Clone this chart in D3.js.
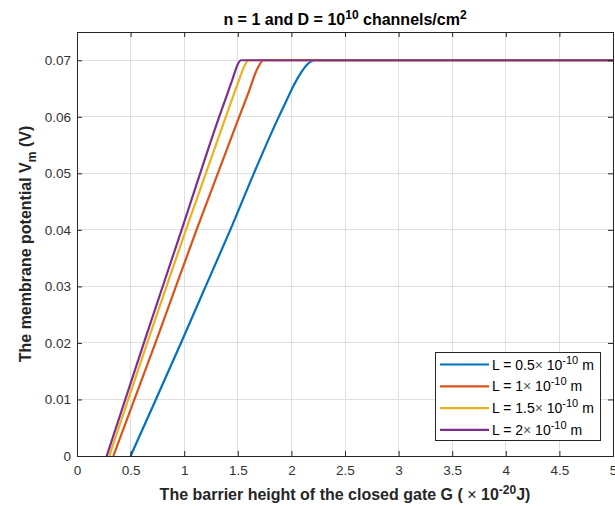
<!DOCTYPE html>
<html><head><meta charset="utf-8">
<script src="https://cdn.jsdelivr.net/npm/d3@7/dist/d3.min.js"></script>
<style>
body{margin:0;background:#fff;}
text{font-family:"Liberation Sans",Arial,Helvetica,sans-serif;}
</style></head>
<body><svg id="c" width="615" height="506"></svg>
<script>
// Data
const xTicks = [0,0.5,1,1.5,2,2.5,3,3.5,4,4.5,5];
const yTicks = [0,0.01,0.02,0.03,0.04,0.05,0.06,0.07];
const seriesNames = ["0.5","1","1.5","2"];
const seriesColors = ["#0072BD","#D95319","#EDB120","#7E2F8E"];
const G_L05 = [0.5,0.736,0.97,1.2,1.43,1.65,1.87,1.95,2.02,2.09,2.15,2.22,5];
const V_L05 = [0,0.01,0.02,0.03,0.04,0.05,0.0595,0.0627,0.0655,0.0678,0.0693,0.07,0.07];
const G_L1 = [0.339,0.743,1.115,1.503,1.6,1.68,1.74,5];
const V_L1 = [0,0.0206,0.04,0.0595,0.0643,0.0684,0.07,0.07];
const G_L15 = [0.301,0.665,1.016,1.379,1.5,1.56,1.6,5];
const V_L15 = [0,0.0206,0.04,0.0595,0.0659,0.0689,0.07,0.07];
const G_L2 = [0.277,0.634,0.976,1.317,1.45,1.5,1.53,5];
const V_L2 = [0,0.0206,0.04,0.0595,0.0666,0.0693,0.07,0.07];

const series = [
  {name:seriesNames[0], G:G_L05, V:V_L05, color:seriesColors[0]},
  {name:seriesNames[1], G:G_L1, V:V_L1, color:seriesColors[1]},
  {name:seriesNames[2], G:G_L15, V:V_L15, color:seriesColors[2]},
  {name:seriesNames[3], G:G_L2, V:V_L2, color:seriesColors[3]}
];

const svg = d3.select("#c");
const m = {l:77, r:613, t:32, b:456};
const x = d3.scaleLinear().domain([0,5]).range([m.l,m.r]);
const y = d3.scaleLinear().domain([0,0.075]).range([m.b,m.t]);
const txt = "#333333", axc = "#262626";

// grid
const g = svg.append("g");
g.selectAll(".gx").data(xTicks.slice(1,-1)).enter().append("line")
  .attr("x1",d=>x(d)).attr("x2",d=>x(d)).attr("y1",m.t).attr("y2",m.b)
  .attr("stroke","#dfdfdf").attr("stroke-width",1).attr("shape-rendering","crispEdges");
g.selectAll(".gy").data(yTicks.slice(1)).enter().append("line")
  .attr("x1",m.l).attr("x2",m.r).attr("y1",d=>y(d)).attr("y2",d=>y(d))
  .attr("stroke","#dfdfdf").attr("stroke-width",1).attr("shape-rendering","crispEdges");

// lines
const line = d3.line().x(d=>x(d[0])).y(d=>y(d[1])).curve(d3.curveMonotoneX);
svg.append("clipPath").attr("id","cp").append("rect")
  .attr("x",m.l).attr("y",m.t).attr("width",m.r-m.l).attr("height",m.b-m.t);
series.forEach(s=>{
  svg.append("path").attr("d",line(s.G.map((gv,i)=>[gv,s.V[i]])))
    .attr("fill","none").attr("stroke",s.color).attr("stroke-width",2.2)
    .attr("clip-path","url(#cp)");
});

// axes
const fmtX = d=>String(d);
const fmtY = d=>d===0?"0":d.toFixed(2);
const ax = svg.append("g").attr("transform",`translate(0,${m.b})`)
  .call(d3.axisBottom(x).tickValues(xTicks).tickFormat(fmtX).tickSizeInner(-5).tickSizeOuter(0).tickPadding(9));
const axT = svg.append("g").attr("transform",`translate(0,${m.t})`)
  .call(d3.axisTop(x).tickValues(xTicks).tickFormat("").tickSizeInner(-5).tickSizeOuter(0));
const ay = svg.append("g").attr("transform",`translate(${m.l},0)`)
  .call(d3.axisLeft(y).tickValues(yTicks).tickFormat(fmtY).tickSizeInner(-5).tickSizeOuter(0).tickPadding(6));
const ayR = svg.append("g").attr("transform",`translate(${m.r},0)`)
  .call(d3.axisRight(y).tickValues(yTicks).tickFormat("").tickSizeInner(-5).tickSizeOuter(0));
[ax,axT,ay,ayR].forEach(a=>{
  a.select(".domain").remove();
  a.selectAll("line").attr("stroke",axc);
  a.selectAll("text").attr("fill",txt).style("font-size","13.5px").style("font-family","'Liberation Sans',Arial,sans-serif");
});
svg.append("rect").attr("x",m.l).attr("y",m.t).attr("width",m.r-m.l).attr("height",m.b-m.t)
  .attr("fill","none").attr("stroke",axc).attr("stroke-width",1).attr("shape-rendering","crispEdges");

// title
const title = svg.append("text").attr("x",(m.l+m.r)/2).attr("y",25).attr("text-anchor","middle")
  .attr("fill","#000").style("font-size","16px").style("font-weight","bold");
title.append("tspan").text("n = 1 and D = 10");
title.append("tspan").attr("dy",-6).style("font-size","12px").text("10");
title.append("tspan").attr("dy",6).text(" channels/cm");
title.append("tspan").attr("dy",-6).style("font-size","12px").text("2");

// x label
const xl = svg.append("text").attr("x",(m.l+m.r)/2).attr("y",500).attr("text-anchor","middle")
  .attr("fill","#262626").style("font-size","16px").style("font-weight","bold");
xl.append("tspan").text("The barrier height of the closed gate G (");
xl.append("tspan").style("font-weight","normal").text(" × ");
xl.append("tspan").text("10");
xl.append("tspan").attr("dy",-6).style("font-size","12px").text("-20");
xl.append("tspan").attr("dy",6).text("J)");

// y label
const yl = svg.append("text").attr("transform",`translate(31,${(m.t+m.b)/2}) rotate(-90)`).attr("text-anchor","middle")
  .attr("fill","#262626").style("font-size","16px").style("font-weight","bold");
yl.append("tspan").text("The membrane potential V");
yl.append("tspan").attr("dy",5).style("font-size","12px").text("m");
yl.append("tspan").attr("dy",-5).text(" (V)");

// legend
const lg = svg.append("g");
lg.append("rect").attr("x",435.5).attr("y",352.5).attr("width",165).attr("height",88)
  .attr("fill","#fff").attr("stroke","#262626").attr("stroke-width",1);
series.forEach((s,i)=>{
  const yy = 364.5 + i*21.8;
  lg.append("line").attr("x1",440).attr("x2",489).attr("y1",yy).attr("y2",yy)
    .attr("stroke",s.color).attr("stroke-width",2.2);
  const t = lg.append("text").attr("x",492).attr("y",yy+5).attr("fill","#000").style("font-size","14px");
  t.append("tspan").text("L = "+s.name);
  t.append("tspan").attr("fill","#555").text("× ");
  t.append("tspan").text(" 10");
  t.append("tspan").attr("dy",-6).style("font-size","11px").text("-10");
  t.append("tspan").attr("dy",6).text("  m");
});
</script></body></html>
